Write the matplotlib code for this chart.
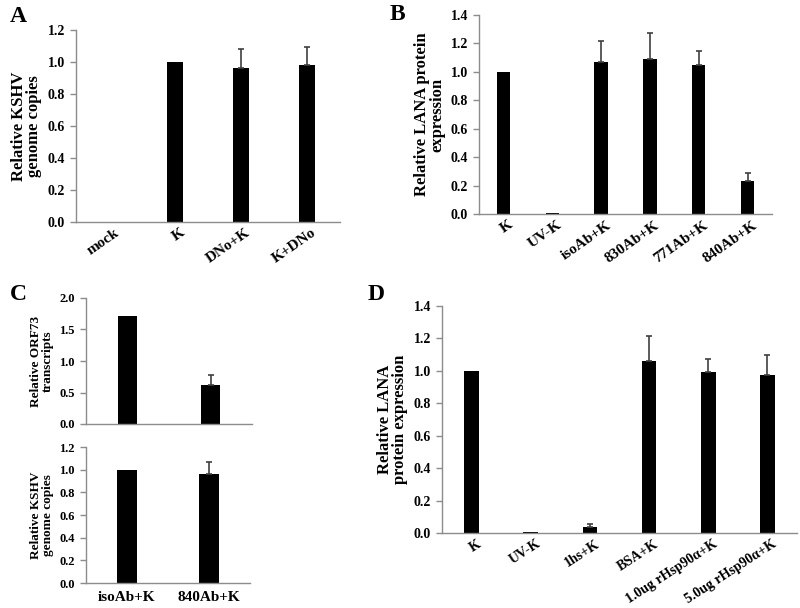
import numpy as np
import matplotlib.pyplot as plt

plt.rcParams['font.family'] = ['Liberation Serif', 'DejaVu Serif']
plt.rcParams['font.weight'] = 'bold'

# panel A
a_labels = ['mock', 'K', 'DNo+K', 'K+DNo']
a_values = [0.0, 1.0, 0.96, 0.98]
a_err = [0.0, 0.0, 0.12, 0.115]

# panel B
b_labels = ['K', 'UV-K', 'isoAb+K', '830Ab+K', '771Ab+K', '840Ab+K']
b_values = [1.0, 0.005, 1.07, 1.09, 1.05, 0.23]
b_err = [0.0, 0.0, 0.15, 0.185, 0.10, 0.06]

# panel C
c_labels = ['isoAb+K', '840Ab+K']
c_orf73 = [1.72, 0.62]
c_orf73_err = [0.0, 0.15]
c_genome = [1.0, 0.96]
c_genome_err = [0.0, 0.11]

# panel D
d_labels = ['K', 'UV-K', '1hs+K', 'BSA+K', '1.0ug rHsp90α+K', '5.0ug rHsp90α+K']
d_values = [1.0, 0.005, 0.04, 1.06, 0.99, 0.975]
d_err = [0.0, 0.0, 0.018, 0.155, 0.085, 0.125]

W, H = 800, 608


def make_ax(fig, left, right, top, bottom):
    return fig.add_axes([left / W, (H - bottom) / H, (right - left) / W, (bottom - top) / H])


def bar_panel(ax, labels, values, err, ymax, ystep, ylabel, ylab_size=12,
              tick_size=10, xlab_size=11, rot=35, width=0.25, show_x=True):
    x = np.arange(len(labels))
    values = np.asarray(values)
    err = np.asarray(err)
    ax.bar(x, values, width=width, color='black', zorder=2)
    # only bars that have an error value get a whisker
    m = err > 0
    ax.errorbar(x[m], values[m], yerr=[np.zeros(m.sum()), err[m]], fmt='none',
                ecolor='#404040', elinewidth=1.2, capsize=2.5, capthick=1.2, zorder=3)
    ax.set_xlim(-0.5, len(labels) - 0.5)
    ax.set_ylim(0, ymax)
    yt = np.arange(0, ymax + 1e-9, ystep)
    ax.set_yticks(yt)
    ax.set_yticklabels(['%.1f' % v for v in yt], fontsize=tick_size, fontweight='bold')
    for s in ['top', 'right']:
        ax.spines[s].set_visible(False)
    for s in ['left', 'bottom']:
        ax.spines[s].set_color('#8c8c8c')
        ax.spines[s].set_linewidth(1.0)
    ax.tick_params(axis='y', color='#8c8c8c', length=4, width=1, pad=4)
    ax.tick_params(axis='x', length=0, pad=6)
    ax.set_xticks(x)
    if show_x and not rot:
        ax.set_xticklabels(labels, fontsize=xlab_size, fontweight='bold')
    else:
        ax.set_xticklabels([])
    if show_x and rot:
        # excel style slanted labels, upper end a little right of the bar
        for i, lbl in enumerate(labels):
            ax.annotate(lbl, xy=(i, 0), xycoords=('data', 'axes fraction'),
                        xytext=(6, -7), textcoords='offset points',
                        rotation=rot, ha='right', va='center', rotation_mode='anchor',
                        fontsize=xlab_size, fontweight='bold', annotation_clip=False)
    ax.set_ylabel(ylabel, fontsize=ylab_size, fontweight='bold', linespacing=0.95)


fig = plt.figure(figsize=(8, 6.08), dpi=100)

ax_a = make_ax(fig, 76, 340, 30, 222)
bar_panel(ax_a, a_labels, a_values, a_err, 1.2, 0.2,
          'Relative KSHV\ngenome copies', ylab_size=12)

ax_b = make_ax(fig, 479, 772, 15, 214)
bar_panel(ax_b, b_labels, b_values, b_err, 1.4, 0.2,
          'Relative LANA protein\nexpression', ylab_size=12, width=0.27)

ax_c1 = make_ax(fig, 86, 252, 298, 424)
bar_panel(ax_c1, c_labels, c_orf73, c_orf73_err, 2.0, 0.5,
          'Relative ORF73\ntranscripts', ylab_size=9.5, tick_size=9, width=0.24,
          show_x=False)

ax_c2 = make_ax(fig, 86, 250, 447, 583)
bar_panel(ax_c2, c_labels, c_genome, c_genome_err, 1.2, 0.2,
          'Relative KSHV\ngenome copies', ylab_size=9.5, tick_size=9, width=0.24,
          xlab_size=11, rot=0)

ax_d = make_ax(fig, 442, 797, 306, 533)
bar_panel(ax_d, d_labels, d_values, d_err, 1.4, 0.2,
          'Relative LANA\nprotein expression', ylab_size=12, width=0.25,
          xlab_size=10, rot=33)

for letter, (px, py) in zip('ABCD', [(10, 22), (390, 20), (10, 300), (368, 300)]):
    fig.text(px / W, 1 - py / H, letter, fontsize=17, fontweight='bold')

fig.savefig('out.png', dpi=100)
